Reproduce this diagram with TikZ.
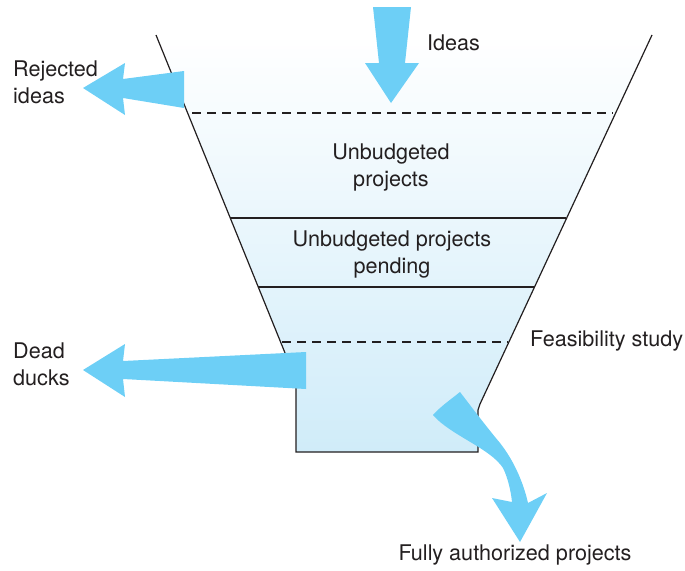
\documentclass[tikz,border=0pt]{standalone}
\usepackage{fontspec}
\setmainfont{TeX Gyre Heros}
\usepackage{xcolor}
\usepackage{tikz}
\definecolor{arrowblue}{RGB}{109,207,246}
\definecolor{funnelblue}{RGB}{208,236,249}
\definecolor{textgray}{RGB}{35,31,32}
\tikzset{
    lbl/.style={inner sep=0pt, text=textgray, font=\fontsize{21.6}{27}\selectfont},
    funnelline/.style={line width=1.2pt, color=textgray},
    flow/.style={fill=arrowblue, draw=none}
}

\begin{document}
\begin{tikzpicture}[x=1pt, y=-1pt]
        \useasboundingbox (0, 0) rectangle (685, 570);

        \shade[top color=white, bottom color=funnelblue]
            (156, 35) -- (652, 35) -- (478, 408) -- (478, 452)
            -- (296, 452) -- (296, 380) -- cycle;

        \draw[funnelline] (156, 35) -- (296, 380) -- (296, 452) -- (478, 452)
            -- (478, 410) -- (480, 404) -- (652, 35);
        \draw[funnelline, dash pattern=on 9pt off 6pt] (192, 113) -- (613, 113);
        \draw[funnelline] (230, 218) -- (566, 218);
        \draw[funnelline] (258, 287) -- (535, 287);
        \draw[funnelline, dash pattern=on 9pt off 6pt] (282, 342) -- (508, 342);

        \fill[flow] (373, 7) -- (411, 7) -- (405, 63) -- (419, 63) -- (391, 103)
            -- (365, 63) -- (379, 63) -- cycle;
        \fill[flow] (184, 71) -- (184, 108) -- (123, 98) -- (125, 115) -- (83, 88)
            -- (125, 63) -- (123, 79) -- cycle;
        \fill[flow] (306, 352) -- (306, 389) -- (123, 379) -- (125, 397) -- (83, 370)
            -- (125, 344) -- (123, 361) -- cycle;
        \fill[flow] (433, 415) .. controls (450, 435) and (490, 448) .. (503, 468)
            .. controls (508, 478) and (511, 492) .. (512, 502)
            -- (492, 498) -- (520, 542) -- (547, 493) -- (528, 503)
            .. controls (524, 485) and (515, 462) .. (500, 443)
            .. controls (485, 425) and (470, 405) .. (460, 392)
            .. controls (450, 400) and (440, 407) .. (433, 415) -- cycle;

        \node[lbl, anchor=west] (ideas) at (427, 43) {Ideas};
        \node[lbl, anchor=west, align=left] (rejected) at (13, 82) {Rejected\\ideas};
        \node[lbl, align=center] (unbudgeted) at (391, 167) {Unbudgeted\\projects};
        \node[lbl, align=center] (pending) at (392, 254) {Unbudgeted projects\\pending};
        \node[lbl, anchor=west] (feasibility) at (530, 341) {Feasibility study};
        \node[lbl, anchor=west, align=left] (dead) at (13, 364) {Dead\\ducks};
        \node[lbl] (authorized) at (515, 555) {Fully authorized projects};
    \end{tikzpicture}
\end{document}
